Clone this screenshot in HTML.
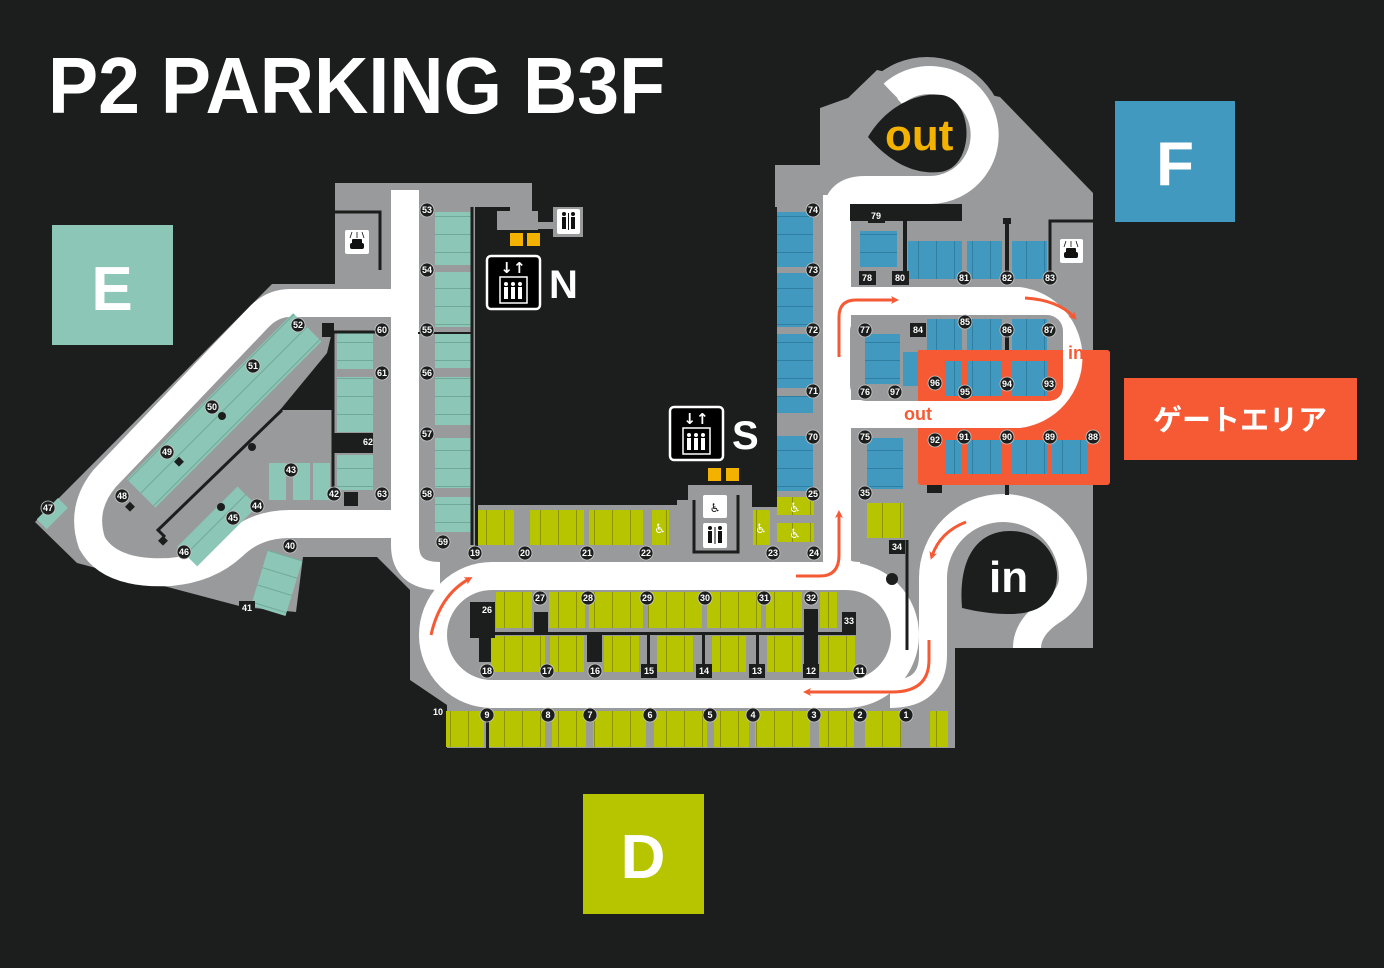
<!DOCTYPE html>
<html><head><meta charset="utf-8"><style>
html,body{margin:0;padding:0;background:#1b1e1c;}
svg{display:block}
.lb circle{fill:#1b1e1c;stroke:#c8c8c8;stroke-width:0.8}
.lb rect{fill:#1b1e1c}
.lb text{fill:#fff;font:bold 9px "Liberation Sans",sans-serif;text-anchor:middle;dominant-baseline:central}
</style></head><body>
<svg width="1384" height="968" viewBox="0 0 1384 968" xmlns="http://www.w3.org/2000/svg">
<defs>
<pattern id="pv" width="18" height="10" patternUnits="userSpaceOnUse"><rect width="18" height="10" fill="#b7c400"/><rect width="1" height="10" fill="#8d9400"/></pattern>
<pattern id="th" width="10" height="18" patternUnits="userSpaceOnUse"><rect width="10" height="18" fill="#8cc6b6"/><rect width="10" height="1" fill="#72a898"/></pattern>
<pattern id="bh" width="10" height="18" patternUnits="userSpaceOnUse"><rect width="10" height="18" fill="#4299c0"/><rect width="10" height="1" fill="#2f7fa3"/></pattern>
<pattern id="bv" width="18" height="10" patternUnits="userSpaceOnUse"><rect width="18" height="10" fill="#4299c0"/><rect width="1" height="10" fill="#2f7fa3"/></pattern>
<marker id="ah" markerWidth="8" markerHeight="8" refX="4" refY="4" orient="auto" markerUnits="userSpaceOnUse" viewBox="0 0 8 8"><path d="M0,0 L8,4 L0,8 L2,4Z" fill="#f55a35"/></marker>
</defs>
<rect width="1384" height="968" fill="#1b1e1c"/>

<text x="48" y="113" font-family="Liberation Sans, sans-serif" font-weight="bold" font-size="80" fill="#fff" textLength="617" lengthAdjust="spacingAndGlyphs">P2 PARKING B3F</text>

<rect x="52" y="225" width="121" height="120" fill="#8cc6b6"/>
<text x="112" y="310" font-family="Liberation Sans, sans-serif" font-weight="bold" font-size="62" fill="#fff" text-anchor="middle">E</text>
<rect x="1115" y="101" width="120" height="121" fill="#4299c0"/>
<text x="1175" y="185" font-family="Liberation Sans, sans-serif" font-weight="bold" font-size="62" fill="#fff" text-anchor="middle">F</text>
<rect x="583" y="794" width="121" height="120" fill="#b7c400"/>
<text x="643" y="878" font-family="Liberation Sans, sans-serif" font-weight="bold" font-size="62" fill="#fff" text-anchor="middle">D</text>
<rect x="1124" y="378" width="233" height="82" fill="#f55a35"/>
<text x="1240" y="430" font-family="Liberation Sans, 'Noto Sans CJK JP', sans-serif" font-weight="bold" font-size="29" fill="#fff" text-anchor="middle">ゲートエリア</text>

<circle cx="927" cy="135" r="78" fill="#999a9c"/>
<polygon fill="#999a9c" points="335,183 775,183 775,165 820,165 820,108 848,98 877,70 1000,97 1093,193 1093,648 955,648 955,748 447,748 447,705 410,680 410,590 377,557 303,557 296,612 243,607 77,563 35,522 272,284 335,284"/>
<rect x="475" y="207" width="302" height="298" fill="#1b1e1c"/>
<rect x="530" y="170" width="245" height="40" fill="#1b1e1c"/>
<rect x="743" y="480" width="34" height="27" fill="#1b1e1c"/>
<polygon fill="#1b1e1c" points="332,332 327,353 280,410 332,410"/>
<rect x="510" y="183" width="22" height="30" fill="#999a9c"/>
<rect x="497" y="211" width="41" height="19" fill="#999a9c"/>
<rect x="536" y="222" width="20" height="7" fill="#999a9c"/>
<rect x="553" y="207" width="30" height="30" fill="#999a9c"/>
<rect x="557" y="209" width="23" height="25" rx="2" fill="#fff"/>
<g fill="#111"><circle cx="564" cy="214" r="2"/><rect x="562" y="217" width="4" height="12"/><circle cx="573" cy="214" r="2"/><rect x="571" y="217" width="4" height="12"/><rect x="568" y="213" width="1" height="17"/></g>
<rect x="510" y="233" width="13" height="13" fill="#f3b100"/>
<rect x="527" y="233" width="13" height="13" fill="#f3b100"/>
<rect x="688" y="485" width="64" height="70" fill="#999a9c"/>
<rect x="677" y="500" width="14" height="55" fill="#999a9c"/>
<path d="M694,500 V552 H738 V495" fill="none" stroke="#1b1e1c" stroke-width="3"/>
<rect x="703" y="495" width="24" height="23" rx="2" fill="#fff"/>
<rect x="703" y="523" width="24" height="25" rx="2" fill="#fff"/>
<text x="715" y="512" font-family="DejaVu Sans, sans-serif" font-size="12" text-anchor="middle" fill="#111">♿</text>
<g fill="#111"><circle cx="710" cy="528" r="2"/><rect x="708" y="531" width="4" height="12"/><circle cx="720" cy="528" r="2"/><rect x="718" y="531" width="4" height="12"/><rect x="714.5" y="527" width="1" height="17"/></g>
<rect x="708" y="468" width="13" height="13" fill="#f3b100"/>
<rect x="726" y="468" width="13" height="13" fill="#f3b100"/>

<path d="M335,212 H380 V270" fill="none" stroke="#1b1e1c" stroke-width="3"/>
<rect x="345" y="230" width="24" height="24" rx="2" fill="#fff"/>
<g fill="#111"><rect x="350" y="243" width="14" height="6" rx="2"/><rect x="352" y="239" width="10" height="5" rx="1"/><path d="M352,232 L350,238 M357,232 V238 M362,232 L364,238" stroke="#111" stroke-width="0.8"/></g>
<rect x="1060" y="239" width="23" height="24" rx="2" fill="#fff"/>
<g fill="#111"><rect x="1064" y="252" width="14" height="6" rx="2"/><rect x="1066" y="248" width="10" height="5" rx="1"/><path d="M1066,241 L1064,247 M1071,241 V247 M1076,241 L1078,247" stroke="#111" stroke-width="0.8"/></g>

<rect x="918" y="350" width="192" height="135" rx="3" fill="#f55a35"/>

<g fill="none" stroke="#fff" stroke-width="28" stroke-linejoin="round">
<rect x="433" y="576" width="472" height="118" rx="59"/>
<path d="M405,190 V545 Q405,576 440,576"/>
<path d="M405,303 H290 Q272,303 258,318 L105,478 Q80,508 92,543 Q110,575 170,572 Q208,569 233,546 Q255,524 290,524 H405"/>
<path d="M837,195 V560 Q837,576 860,576"/>
<path d="M837,301 H1019 A57,57 0 0 1 1019,414 H837"/>
<path d="M837,215 Q837,190 865,190 H930 A55,55 0 1 0 893,94"/>
<path d="M1027,648 Q1027,628 1050,612 Q1073,598 1073,578 A70,70 0 0 0 933,578 V655 Q933,694 890,694"/>
</g>
<path d="M874,78 L896,100" stroke="#999a9c" stroke-width="5"/>

<path d="M868,137 C885,108 915,92 942,95 C975,100 975,168 940,172 C912,175 888,160 868,137Z" fill="#1b1e1c"/>
<text x="885" y="150" font-family="Liberation Sans, sans-serif" font-weight="bold" font-size="44" fill="#f3b100">out</text>
<path d="M962,608 C958,560 976,531 1010,531 C1045,531 1057,560 1057,575 C1057,600 1040,614 1010,614 C990,614 975,611 962,608Z" fill="#1b1e1c"/>
<text x="989" y="592" font-family="Liberation Sans, sans-serif" font-weight="bold" font-size="44" fill="#fff">in</text>

<rect x="850" y="315" width="213" height="86" rx="16" fill="#999a9c"/>
<path d="M918,350 H1063 V385 Q1063,401 1047,401 H918Z" fill="#f55a35"/>
<rect x="856" y="428" width="62" height="60" fill="#999a9c"/>
<rect x="850" y="204" width="112" height="17" fill="#1b1e1c"/>
<rect x="903" y="221" width="4" height="60" fill="#1b1e1c"/>
<rect x="1005" y="220" width="4" height="56" fill="#1b1e1c"/>
<rect x="1003" y="218" width="8" height="6" fill="#1b1e1c"/>
<path d="M1050,278 V221 H1093" fill="none" stroke="#1b1e1c" stroke-width="3"/>
<rect x="1005" y="330" width="4" height="20" fill="#1b1e1c"/>
<rect x="927" y="485" width="15" height="8" fill="#1b1e1c"/>
<rect x="1005" y="485" width="4" height="10" fill="#1b1e1c"/>
<path d="M907,540 V650" stroke="#1b1e1c" stroke-width="3"/>
<circle cx="892" cy="579" r="6" fill="#1b1e1c"/>

<g fill="url(#th)">
<rect x="435" y="212" width="37" height="53"/><rect x="435" y="272" width="37" height="55"/>
<rect x="435" y="333" width="37" height="35"/><rect x="435" y="377" width="37" height="48"/>
<rect x="435" y="438" width="37" height="50"/><rect x="435" y="497" width="37" height="35"/>
<rect x="337" y="333" width="36" height="36"/><rect x="337" y="377" width="36" height="55"/>
<rect x="337" y="455" width="36" height="35"/>
</g>
<path d="M472,207 V545" stroke="#1b1e1c" stroke-width="3"/>
<path d="M418,333 H472" stroke="#1b1e1c" stroke-width="2"/>
<path d="M322,332 H382 M333,332 V494" stroke="#1b1e1c" stroke-width="3" fill="none"/>
<rect x="322" y="323" width="12" height="14" fill="#1b1e1c"/>
<rect x="344" y="492" width="14" height="14" fill="#1b1e1c"/>
<rect x="333" y="433" width="40" height="20" fill="#1b1e1c"/>
<g fill="#8cc6b6"><rect x="269" y="463" width="17" height="37"/><rect x="293" y="463" width="17" height="37"/><rect x="313" y="463" width="17" height="37"/></g>
<g transform="translate(320,340) rotate(135)"><rect x="0" y="-2" width="235" height="40" fill="url(#th)"/></g>
<g transform="translate(246,495) rotate(135)"><rect x="0" y="-16" width="85" height="28" fill="url(#th)"/></g>
<path d="M282,410 L158,530 L165,537" fill="none" stroke="#1b1e1c" stroke-width="3"/>
<g fill="#1b1e1c"><circle cx="222" cy="416" r="4"/><circle cx="252" cy="447" r="4"/><circle cx="221" cy="507" r="4"/><rect x="176" y="458" width="7" height="7" transform="rotate(45 179 461)"/><rect x="127" y="503" width="7" height="7" transform="rotate(45 130 506)"/><rect x="160" y="537" width="7" height="7" transform="rotate(45 163 540)"/></g>
<g transform="translate(58,498) rotate(45)"><rect x="0" y="0" width="14" height="30" fill="#8cc6b6"/></g>
<g transform="translate(268,550) rotate(17)"><rect x="0" y="0" width="36" height="58" fill="url(#th)"/></g>

<g fill="url(#bh)">
<rect x="777" y="212" width="36" height="55"/><rect x="777" y="273" width="36" height="54"/>
<rect x="777" y="334" width="36" height="54"/><rect x="777" y="396" width="36" height="17"/>
<rect x="777" y="436" width="36" height="55"/>
<rect x="860" y="231" width="37" height="36"/><rect x="865" y="334" width="35" height="50"/>
<rect x="867" y="438" width="36" height="51"/>
</g>
<g fill="url(#bv)">
<rect x="908" y="241" width="54" height="38"/><rect x="967" y="241" width="35" height="38"/><rect x="1012" y="241" width="35" height="38"/>
<rect x="903" y="352" width="15" height="34"/>
<rect x="927" y="319" width="35" height="31"/><rect x="967" y="319" width="35" height="31"/><rect x="1012" y="319" width="35" height="31"/>
<rect x="945" y="361" width="17" height="35"/><rect x="967" y="361" width="35" height="35"/><rect x="1012" y="361" width="35" height="35"/>
<rect x="945" y="440" width="17" height="34"/><rect x="967" y="440" width="35" height="34"/><rect x="1012" y="440" width="35" height="34"/><rect x="1052" y="440" width="36" height="34"/>
</g>

<g fill="url(#pv)">
<rect x="478" y="510" width="36" height="35"/><rect x="530" y="510" width="54" height="35"/><rect x="589" y="510" width="54" height="35"/><rect x="652" y="510" width="17" height="35"/>
<rect x="753" y="510" width="17" height="35"/><rect x="777" y="497" width="37" height="18"/><rect x="777" y="523" width="37" height="19"/>
<rect x="496" y="592" width="36" height="36"/><rect x="549" y="592" width="36" height="36"/><rect x="589" y="592" width="54" height="36"/><rect x="648" y="592" width="54" height="36"/><rect x="707" y="592" width="54" height="36"/><rect x="766" y="592" width="36" height="36"/><rect x="820" y="592" width="17" height="36"/>
<rect x="491" y="636" width="54" height="36"/><rect x="550" y="636" width="34" height="36"/><rect x="604" y="636" width="35" height="36"/><rect x="657" y="636" width="36" height="36"/><rect x="712" y="636" width="34" height="36"/><rect x="767" y="636" width="35" height="36"/><rect x="820" y="636" width="35" height="36"/>
<rect x="446" y="711" width="38" height="36"/><rect x="489" y="711" width="56" height="36"/><rect x="552" y="711" width="34" height="36"/><rect x="593" y="711" width="53" height="36"/><rect x="654" y="711" width="53" height="36"/><rect x="714" y="711" width="35" height="36"/><rect x="755" y="711" width="55" height="36"/><rect x="819" y="711" width="35" height="36"/><rect x="865" y="711" width="36" height="36"/><rect x="930" y="711" width="18" height="36"/>
<rect x="867" y="503" width="36" height="35"/>
</g>
<g font-family="DejaVu Sans, sans-serif" font-size="13" fill="#fff" text-anchor="middle">
<text x="660" y="533">♿</text><text x="761" y="533">♿</text><text x="795" y="512">♿</text><text x="795" y="538">♿</text>
</g>
<g fill="#1b1e1c">
<rect x="480" y="632" width="376" height="3"/>
<rect x="470" y="602" width="25" height="36"/><rect x="479" y="602" width="12" height="60"/>
<rect x="534" y="612" width="14" height="20"/>
<rect x="587" y="634" width="15" height="28"/>
<rect x="647" y="634" width="3" height="40"/><rect x="702" y="634" width="3" height="40"/><rect x="756" y="634" width="3" height="40"/>
<rect x="804" y="609" width="14" height="68"/>
<rect x="842" y="612" width="14" height="22"/>
<rect x="486" y="715" width="3" height="33"/>
<rect x="475" y="505" width="3" height="48"/>
</g>

<g fill="none" stroke="#f55a35" stroke-width="3" marker-end="url(#ah)">
<path d="M431,635 Q440,595 469,579"/>
<path d="M796,576 H820 Q839,576 839,555 V514"/>
<path d="M839,357 V317 Q839,300 856,300 H895"/>
<path d="M1025,298 Q1058,300 1074,317"/>
<path d="M966,522 Q940,532 932,556"/>
<path d="M929,640 V660 Q929,692 892,692 H807"/>
</g>
<text x="1068" y="359" font-family="Liberation Sans, sans-serif" font-weight="bold" font-size="18" fill="#f55a35">in</text>
<text x="904" y="420" font-family="Liberation Sans, sans-serif" font-weight="bold" font-size="18" fill="#f55a35">out</text>

<g>
<rect x="487" y="256" width="53" height="53" rx="4" fill="#000" stroke="#fff" stroke-width="2.5"/>
<text x="513" y="273" font-family="DejaVu Sans, sans-serif" font-weight="bold" font-size="15" fill="#fff" text-anchor="middle">↓↑</text>
<rect x="500" y="277" width="27" height="26" fill="none" stroke="#fff" stroke-width="1.5"/>
<g fill="#fff"><circle cx="506" cy="284" r="2"/><rect x="504" y="287" width="4" height="12"/><circle cx="513" cy="284" r="2"/><rect x="511" y="287" width="4" height="12"/><circle cx="520" cy="284" r="2"/><rect x="518" y="287" width="4" height="12"/></g>
<text x="549" y="298" font-family="Liberation Sans, sans-serif" font-weight="bold" font-size="40" fill="#fff">N</text>
<rect x="670" y="407" width="53" height="53" rx="4" fill="#000" stroke="#fff" stroke-width="2.5"/>
<text x="696" y="424" font-family="DejaVu Sans, sans-serif" font-weight="bold" font-size="15" fill="#fff" text-anchor="middle">↓↑</text>
<rect x="683" y="428" width="27" height="26" fill="none" stroke="#fff" stroke-width="1.5"/>
<g fill="#fff"><circle cx="689" cy="435" r="2"/><rect x="687" y="438" width="4" height="12"/><circle cx="696" cy="435" r="2"/><rect x="694" y="438" width="4" height="12"/><circle cx="703" cy="435" r="2"/><rect x="701" y="438" width="4" height="12"/></g>
<text x="732" y="449" font-family="Liberation Sans, sans-serif" font-weight="bold" font-size="40" fill="#fff">S</text>
</g>

<g class="lb">
<circle cx="427" cy="210" r="7"/><text x="427" y="210">53</text>
<circle cx="427" cy="270" r="7"/><text x="427" y="270">54</text>
<circle cx="427" cy="330" r="7"/><text x="427" y="330">55</text>
<circle cx="427" cy="373" r="7"/><text x="427" y="373">56</text>
<circle cx="427" cy="434" r="7"/><text x="427" y="434">57</text>
<circle cx="427" cy="494" r="7"/><text x="427" y="494">58</text>
<circle cx="443" cy="542" r="7"/><text x="443" y="542">59</text>
<circle cx="382" cy="330" r="7"/><text x="382" y="330">60</text>
<circle cx="382" cy="373" r="7"/><text x="382" y="373">61</text>
<text x="368" y="442">62</text>
<circle cx="382" cy="494" r="7"/><text x="382" y="494">63</text>
<circle cx="298" cy="325" r="7"/><text x="298" y="325">52</text>
<circle cx="253" cy="366" r="7"/><text x="253" y="366">51</text>
<circle cx="212" cy="407" r="7"/><text x="212" y="407">50</text>
<circle cx="167" cy="452" r="7"/><text x="167" y="452">49</text>
<circle cx="122" cy="496" r="7"/><text x="122" y="496">48</text>
<circle cx="48" cy="508" r="7"/><text x="48" y="508">47</text>
<circle cx="184" cy="552" r="7"/><text x="184" y="552">46</text>
<circle cx="233" cy="518" r="7"/><text x="233" y="518">45</text>
<circle cx="257" cy="506" r="7"/><text x="257" y="506">44</text>
<circle cx="291" cy="470" r="7"/><text x="291" y="470">43</text>
<circle cx="334" cy="494" r="7"/><text x="334" y="494">42</text>
<circle cx="290" cy="546" r="7"/><text x="290" y="546">40</text>
<rect x="239" y="601" width="16" height="14"/><text x="247" y="608">41</text>
<circle cx="475" cy="553" r="7"/><text x="475" y="553">19</text>
<circle cx="525" cy="553" r="7"/><text x="525" y="553">20</text>
<circle cx="587" cy="553" r="7"/><text x="587" y="553">21</text>
<circle cx="646" cy="553" r="7"/><text x="646" y="553">22</text>
<circle cx="773" cy="553" r="7"/><text x="773" y="553">23</text>
<circle cx="814" cy="553" r="7"/><text x="814" y="553">24</text>
<text x="487" y="610">26</text>
<circle cx="540" cy="598" r="7"/><text x="540" y="598">27</text>
<circle cx="588" cy="598" r="7"/><text x="588" y="598">28</text>
<circle cx="647" cy="598" r="7"/><text x="647" y="598">29</text>
<circle cx="705" cy="598" r="7"/><text x="705" y="598">30</text>
<circle cx="764" cy="598" r="7"/><text x="764" y="598">31</text>
<circle cx="811" cy="598" r="7"/><text x="811" y="598">32</text>
<text x="849" y="621">33</text>
<circle cx="487" cy="671" r="7"/><text x="487" y="671">18</text>
<circle cx="547" cy="671" r="7"/><text x="547" y="671">17</text>
<circle cx="595" cy="671" r="7"/><text x="595" y="671">16</text>
<rect x="641" y="664" width="16" height="14"/><text x="649" y="671">15</text>
<rect x="696" y="664" width="16" height="14"/><text x="704" y="671">14</text>
<rect x="749" y="664" width="16" height="14"/><text x="757" y="671">13</text>
<rect x="803" y="664" width="16" height="14"/><text x="811" y="671">12</text>
<circle cx="860" cy="671" r="7"/><text x="860" y="671">11</text>
<text x="438" y="712">10</text>
<circle cx="487" cy="715" r="7"/><text x="487" y="715">9</text>
<circle cx="548" cy="715" r="7"/><text x="548" y="715">8</text>
<circle cx="590" cy="715" r="7"/><text x="590" y="715">7</text>
<circle cx="650" cy="715" r="7"/><text x="650" y="715">6</text>
<circle cx="710" cy="715" r="7"/><text x="710" y="715">5</text>
<circle cx="753" cy="715" r="7"/><text x="753" y="715">4</text>
<circle cx="814" cy="715" r="7"/><text x="814" y="715">3</text>
<circle cx="860" cy="715" r="7"/><text x="860" y="715">2</text>
<circle cx="906" cy="715" r="7"/><text x="906" y="715">1</text>
<circle cx="813" cy="210" r="7"/><text x="813" y="210">74</text>
<circle cx="813" cy="270" r="7"/><text x="813" y="270">73</text>
<circle cx="813" cy="330" r="7"/><text x="813" y="330">72</text>
<circle cx="813" cy="391" r="7"/><text x="813" y="391">71</text>
<circle cx="813" cy="437" r="7"/><text x="813" y="437">70</text>
<circle cx="813" cy="494" r="7"/><text x="813" y="494">25</text>
<rect x="868" y="209" width="17" height="14"/><text x="876" y="216">79</text>
<rect x="859" y="271" width="17" height="14"/><text x="867" y="278">78</text>
<rect x="892" y="271" width="17" height="14"/><text x="900" y="278">80</text>
<circle cx="964" cy="278" r="7"/><text x="964" y="278">81</text>
<circle cx="1007" cy="278" r="7"/><text x="1007" y="278">82</text>
<circle cx="1050" cy="278" r="7"/><text x="1050" y="278">83</text>
<circle cx="865" cy="330" r="7"/><text x="865" y="330">77</text>
<rect x="910" y="323" width="16" height="14"/><text x="918" y="330">84</text>
<circle cx="965" cy="322" r="7"/><text x="965" y="322">85</text>
<circle cx="1007" cy="330" r="7"/><text x="1007" y="330">86</text>
<circle cx="1049" cy="330" r="7"/><text x="1049" y="330">87</text>
<circle cx="865" cy="392" r="7"/><text x="865" y="392">76</text>
<circle cx="895" cy="392" r="7"/><text x="895" y="392">97</text>
<circle cx="935" cy="383" r="7"/><text x="935" y="383">96</text>
<circle cx="965" cy="392" r="7"/><text x="965" y="392">95</text>
<circle cx="1007" cy="384" r="7"/><text x="1007" y="384">94</text>
<circle cx="1049" cy="384" r="7"/><text x="1049" y="384">93</text>
<circle cx="865" cy="437" r="7"/><text x="865" y="437">75</text>
<circle cx="935" cy="440" r="7"/><text x="935" y="440">92</text>
<circle cx="964" cy="437" r="7"/><text x="964" y="437">91</text>
<circle cx="1007" cy="437" r="7"/><text x="1007" y="437">90</text>
<circle cx="1050" cy="437" r="7"/><text x="1050" y="437">89</text>
<circle cx="1093" cy="437" r="7"/><text x="1093" y="437">88</text>
<circle cx="865" cy="493" r="7"/><text x="865" y="493">35</text>
<rect x="889" y="540" width="16" height="14"/><text x="897" y="547">34</text>
</g>
</svg>
</body></html>
